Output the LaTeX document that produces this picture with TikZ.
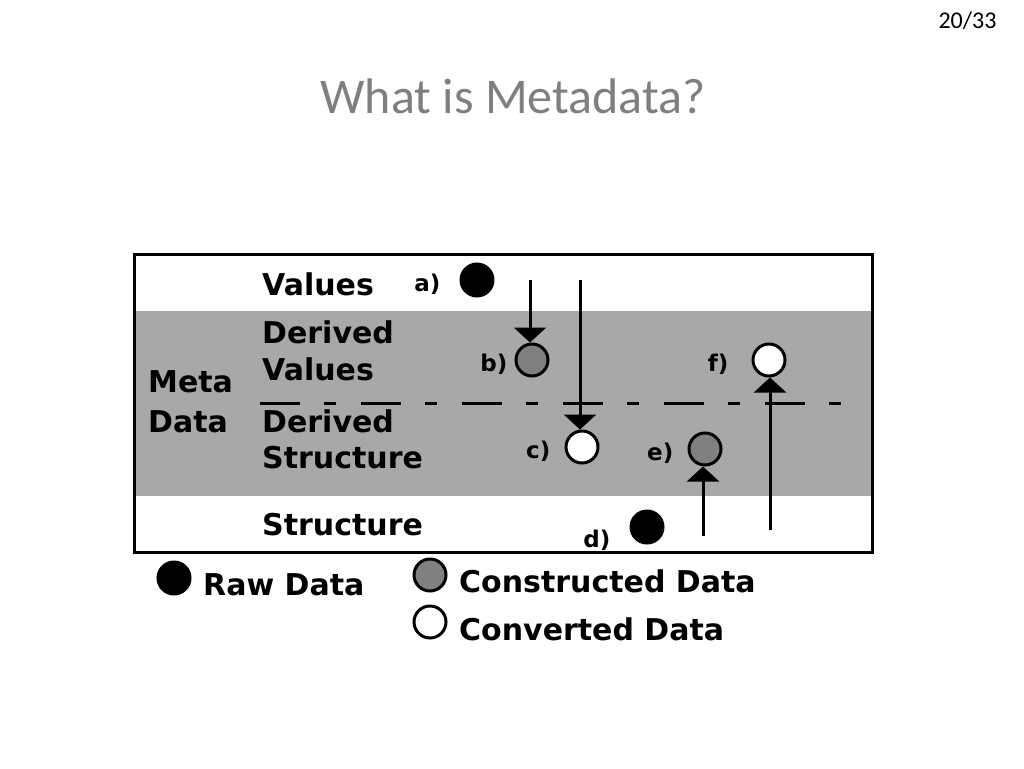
\documentclass[tikz,border=0pt]{standalone}
\usepackage{fontspec}
\setmainfont{Carlito}
\newfontfamily\chicago{DejaVu Sans}
\usetikzlibrary{positioning,arrows.meta}
\definecolor{band}{RGB}{168,168,168}
\definecolor{midgray}{RGB}{128,128,128}
\definecolor{titlegray}{RGB}{127,127,127}

\begin{document}
\begin{tikzpicture}[x=1pt,y=-1pt,
    lbl/.style={font=\chicago\bfseries\fontsize{30}{36}\selectfont, anchor=base west, inner sep=0pt},
    tag/.style={font=\chicago\bfseries\fontsize{23}{28}\selectfont, inner sep=0pt, yshift=-4pt},
    dot/.style={circle, draw, line width=3pt, minimum size=32pt, inner sep=0pt},
    flow/.style={line width=3pt, -{Triangle[width=32pt,length=15pt]}}]

\useasboundingbox (0,0) rectangle (1024,768);

\node[anchor=base east, font=\fontsize{24}{28}\selectfont] (page) at (1000,29) {20/33};
\node[anchor=base, font=\fontsize{50}{60}\selectfont, text=titlegray] (title) at (513,113) {What is Metadata?};

% layers
\fill[band] (134,311) rectangle (872,496);
\draw[line width=3pt] (134,254) rectangle (872,552);
\draw[line width=3pt, dash pattern=on 40pt off 24pt on 12pt off 25pt] (260,403) -- (848,403);

\node[lbl] (values) at (262,295) {Values};
\node[lbl] (dvalues1) at (262,343) {Derived};
\node[lbl] (dvalues2) at (262,380) {Values};
\node[lbl] (meta) at (148,392) {Meta};
\node[lbl] (data) at (148,432) {Data};
\node[lbl] (dstruct1) at (262,432) {Derived};
\node[lbl] (dstruct2) at (262,468) {Structure};
\node[lbl] (struct) at (262,535) {Structure};

% data items
\node[dot, fill=black] (a) at (477,280) {};
\node[dot, fill=midgray] (b) at (532,360) {};
\node[dot, fill=white] (c) at (582,447) {};
\node[dot, fill=black] (d) at (647,527) {};
\node[dot, fill=midgray] (e) at (705,449) {};
\node[dot, fill=white] (f) at (769,360) {};

\node[tag, left=19pt of a] (la) {a)};
\node[tag, left=7pt of b] (lb) {b)};
\node[tag, left=14pt of c] (lc) {c)};
\node[tag, left=19pt of d, yshift=-9pt] (ld) {d)};
\node[tag, left=14pt of e] (le) {e)};
\node[tag, left=23pt of f] (lf) {f)};

\coordinate (bs) at (530,280);
\coordinate (cs) at (580,280);
\coordinate (es) at (703,536);
\coordinate (fs) at (770,530);
\draw[flow] (bs) -- (b.north -| bs);
\draw[flow] (cs) -- (c.north -| cs);
\draw[flow] (es) -- (e.south -| es);
\draw[flow] (fs) -- (f.south -| fs);

% legend
\node[dot, fill=black] (raw) at (174,578) {};
\node[lbl] (rawtxt) at (203,595) {Raw Data};
\node[dot, fill=midgray] (cons) at (430,575) {};
\node[lbl] (constxt) at (459,592) {Constructed Data};
\node[dot, fill=white] (conv) at (430,622) {};
\node[lbl] (convtxt) at (459,640) {Converted Data};
\end{tikzpicture}
\end{document}
